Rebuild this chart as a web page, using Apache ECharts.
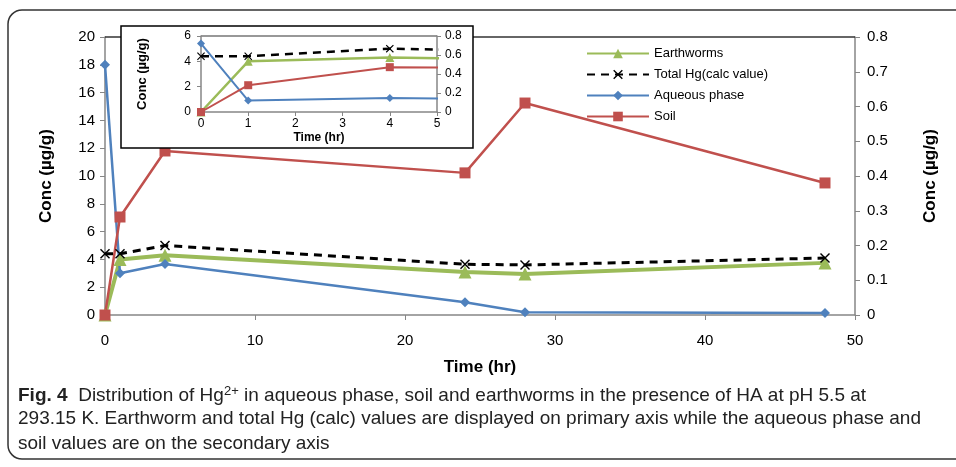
<!DOCTYPE html>
<html>
<head>
<meta charset="utf-8">
<script src="https://cdn.jsdelivr.net/npm/echarts@6/dist/echarts.min.js"></script>
<style>
  html, body { margin: 0; padding: 0; background: #fff; }
  #chart { width: 956px; height: 467px; }
</style>
</head>
<body>
<div id="chart"></div>
<script>
// time (hr)
const times = [0, 1, 4, 24, 28, 48]
// primary axis (µg/g)
const earthworms = [0, 4.0, 4.3, 3.1, 2.95, 3.75]
const totalHg = [4.4, 4.4, 5.0, 3.65, 3.6, 4.1]
// secondary axis (µg/g)
const aqueous = [0.72, 0.12, 0.147, 0.037, 0.008, 0.006]
const soil = [0, 0.282, 0.472, 0.409, 0.61, 0.38]

const names = ['Earthworms', 'Total Hg(calc value)', 'Aqueous phase', 'Soil']
const caption = [
  '{b|Fig. 4}  Distribution of Hg{sup|2+} in aqueous phase, soil and earthworms in the presence of HA at pH 5.5 at',
  '293.15 K. Earthworm and total Hg (calc) values are displayed on primary axis while the aqueous phase and',
  'soil values are on the secondary axis'
]

const font = 'Liberation Sans'
const GREEN = '#9BBB59', BLUE = '#4F81BD', RED = '#C0504D'
const crossPath = 'path://M0,1L1,0L5,4L9,0L10,1L6,5L10,9L9,10L5,6L1,10L0,9L4,5Z'

function pairs(vals) {
  return times.map((t, i) => [t, vals[i]])
}

function makeSeries(gridIdx, z) {
  const xi = gridIdx, yl = gridIdx * 2, yr = gridIdx * 2 + 1
  const small = gridIdx === 1
  return [
    {
      name: names[0], type: 'line', xAxisIndex: xi, yAxisIndex: yl, z: z,
      data: pairs(earthworms), symbol: 'triangle', symbolSize: small ? 9 : 13,
      itemStyle: { color: GREEN }, lineStyle: { color: GREEN, width: small ? 2.5 : 4 }
    },
    {
      name: names[1], type: 'line', xAxisIndex: xi, yAxisIndex: yl, z: z,
      data: pairs(totalHg), symbol: crossPath, symbolSize: small ? 8 : 10,
      itemStyle: { color: '#000' }, lineStyle: { color: '#000', width: small ? 2.5 : 3, type: [8, 6] }
    },
    {
      name: names[2], type: 'line', xAxisIndex: xi, yAxisIndex: yr, z: z,
      data: pairs(aqueous), symbol: 'diamond', symbolSize: small ? 8 : 10,
      itemStyle: { color: BLUE }, lineStyle: { color: BLUE, width: small ? 2 : 2.5 }
    },
    {
      name: names[3], type: 'line', xAxisIndex: xi, yAxisIndex: yr, z: z,
      data: pairs(soil), symbol: 'rect', symbolSize: small ? 8 : 11,
      itemStyle: { color: RED }, lineStyle: { color: RED, width: small ? 2 : 2.5 }
    }
  ]
}

const axisLine = { show: true, lineStyle: { color: '#868686', width: 1.5 } }
const axisTick = { show: true, length: 5, lineStyle: { color: '#868686' } }
const smallTick = { show: true, length: 4, lineStyle: { color: '#868686' } }

const option = {
  animation: false,
  backgroundColor: '#fff',
  textStyle: { fontFamily: font },
  legend: {
    orient: 'vertical', left: 581, top: 42, itemGap: 8,
    itemWidth: 62, itemHeight: 12,
    data: names,
    textStyle: { fontFamily: font, fontSize: 13, color: '#000' }
  },
  grid: [
    { left: 105, right: 101, top: 37, bottom: 152 },
    { left: 201, top: 36, width: 236, height: 76, z: 20 }
  ],
  xAxis: [
    {
      type: 'value', gridIndex: 0, min: 0, max: 50, interval: 10,
      name: 'Time (hr)', nameLocation: 'middle', nameGap: 44,
      nameTextStyle: { fontFamily: font, fontSize: 17, fontWeight: 'bold', color: '#000' },
      axisLine: axisLine, axisTick: axisTick, splitLine: { show: false },
      axisLabel: { fontSize: 15, color: '#000', margin: 18 }
    },
    {
      type: 'value', gridIndex: 1, min: 0, max: 5, interval: 1, z: 20,
      name: 'Time (hr)', nameLocation: 'middle', nameGap: 20,
      nameTextStyle: { fontFamily: font, fontSize: 12, fontWeight: 'bold', color: '#000' },
      axisLine: axisLine, axisTick: smallTick, splitLine: { show: false },
      axisLabel: { fontSize: 12, color: '#000', margin: 6 }
    }
  ],
  yAxis: [
    {
      type: 'value', gridIndex: 0, min: 0, max: 20, interval: 2,
      name: 'Conc (µg/g)', nameLocation: 'middle', nameGap: 50,
      nameTextStyle: { fontFamily: font, fontSize: 17, fontWeight: 'bold', color: '#000' },
      axisLine: axisLine, axisTick: axisTick, splitLine: { show: false },
      axisLabel: { fontSize: 15, color: '#000', margin: 10 }
    },
    {
      type: 'value', gridIndex: 0, position: 'right', min: 0, max: 0.8, interval: 0.1,
      name: 'Conc (µg/g)', nameLocation: 'middle', nameGap: 67, nameRotate: 90,
      nameTextStyle: { fontFamily: font, fontSize: 17, fontWeight: 'bold', color: '#000' },
      axisLine: axisLine, axisTick: axisTick, splitLine: { show: false },
      axisLabel: { fontSize: 15, color: '#000', margin: 12 }
    },
    {
      type: 'value', gridIndex: 1, min: 0, max: 6, interval: 2, z: 20,
      name: 'Conc (µg/g)', nameLocation: 'middle', nameGap: 52,
      nameTextStyle: { fontFamily: font, fontSize: 13, fontWeight: 'bold', color: '#000' },
      axisLine: axisLine, axisTick: smallTick, splitLine: { show: false },
      axisLabel: { fontSize: 12, color: '#000', margin: 10 }
    },
    {
      type: 'value', gridIndex: 1, position: 'right', min: 0, max: 0.8, interval: 0.2, z: 20,
      axisLine: axisLine, axisTick: smallTick, splitLine: { show: false },
      axisLabel: { fontSize: 12, color: '#000', margin: 8 }
    }
  ],
  graphic: [
    // outer figure frame
    { type: 'rect', z: 0, shape: { x: 8, y: 10, width: 1000, height: 449, r: 14 },
      style: { fill: 'none', stroke: '#333', lineWidth: 1.5 } },
    // top border of main plot area
    { type: 'line', z: 1, shape: { x1: 105, y1: 37, x2: 855, y2: 37 },
      style: { stroke: '#333', lineWidth: 1.5 } },
    // inset box
    { type: 'rect', z: 15, shape: { x: 121, y: 26, width: 352, height: 122 },
      style: { fill: '#fff', stroke: '#000', lineWidth: 1.5 } },
    { type: 'line', z: 16, shape: { x1: 201, y1: 36, x2: 437, y2: 36 },
      style: { stroke: '#333', lineWidth: 1.2 } }
  ].concat(caption.map((line, i) => ({
    type: 'text', z: 30, left: 18, top: 385 + i * 24.5,
    style: {
      text: line, fill: '#222',
      font: '19px "Liberation Sans", sans-serif',
      rich: {
        b: { fontWeight: 'bold', fontSize: 19, fontFamily: 'Liberation Sans' },
        sup: { fontSize: 13, verticalAlign: 'top', padding: [0, 0, 9, 0] }
      }
    }
  }))),
  series: makeSeries(0, 2).concat(makeSeries(1, 25))
}

const chart = echarts.init(document.getElementById('chart'))
chart.setOption(option)
</script>
</body>
</html>
